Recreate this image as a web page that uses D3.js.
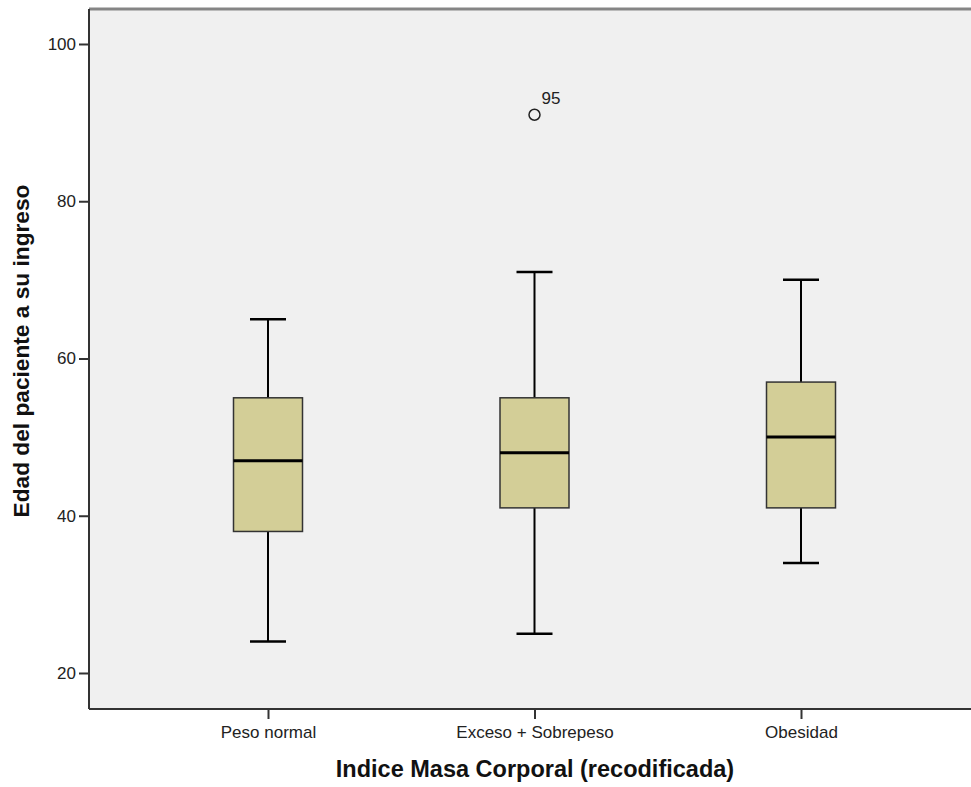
<!DOCTYPE html>
<html><head><meta charset="utf-8">
<script src="https://cdn.jsdelivr.net/npm/d3@7"></script>
<style>body{margin:0;background:#fff}svg{display:block}</style>
</head><body><svg id="c" width="971" height="787"></svg>
<script>
const categories = ["Peso normal", "Exceso + Sobrepeso", "Obesidad"];
const whiskerLow = [24, 25, 34];
const q1 = [38, 41, 41];
const median = [47, 48, 50];
const q3 = [55, 55, 57];
const whiskerHigh = [65, 71, 70];
const outliers = [{cat: "Exceso + Sobrepeso", value: 91, label: "95"}];
const yTicks = [20, 40, 60, 80, 100];

const FONT = "Liberation Sans, Arial, sans-serif";
const svg = d3.select("#c");
const L = 89, R = 971, T = 9, B = 709;
const y = d3.scaleLinear().domain([15.42, 104.45]).range([B, T]);
const x = d3.scalePoint().domain(categories).range([268, 801]);
const boxW = 69, capW = 36;

svg.append("rect").attr("x", L).attr("y", T).attr("width", R - L + 5).attr("height", B - T).attr("fill", "#f0f0f0");
svg.append("line").attr("x1", L).attr("x2", R).attr("y1", T).attr("y2", T).attr("stroke", "#858585").attr("stroke-width", 3);

const data = categories.map((c, i) => ({c, lo: whiskerLow[i], q1: q1[i], med: median[i], q3: q3[i], hi: whiskerHigh[i]}));
const g = svg.append("g");
const bx = g.selectAll("g.b").data(data).join("g");
bx.append("line").attr("x1", d => x(d.c)).attr("x2", d => x(d.c)).attr("y1", d => y(d.hi)).attr("y2", d => y(d.q3)).attr("stroke", "#000").attr("stroke-width", 2);
bx.append("line").attr("x1", d => x(d.c)).attr("x2", d => x(d.c)).attr("y1", d => y(d.q1)).attr("y2", d => y(d.lo)).attr("stroke", "#000").attr("stroke-width", 2);
bx.append("line").attr("x1", d => x(d.c) - capW/2).attr("x2", d => x(d.c) + capW/2).attr("y1", d => y(d.hi)).attr("y2", d => y(d.hi)).attr("stroke", "#000").attr("stroke-width", 2.5);
bx.append("line").attr("x1", d => x(d.c) - capW/2).attr("x2", d => x(d.c) + capW/2).attr("y1", d => y(d.lo)).attr("y2", d => y(d.lo)).attr("stroke", "#000").attr("stroke-width", 2.5);
bx.append("rect").attr("x", d => x(d.c) - boxW/2).attr("width", boxW).attr("y", d => y(d.q3)).attr("height", d => y(d.q1) - y(d.q3))
  .attr("fill", "#d3ce97").attr("stroke", "#333").attr("stroke-width", 1.5);
bx.append("line").attr("x1", d => x(d.c) - boxW/2).attr("x2", d => x(d.c) + boxW/2).attr("y1", d => y(d.med)).attr("y2", d => y(d.med)).attr("stroke", "#000").attr("stroke-width", 3);

g.selectAll("circle.o").data(outliers).join("circle").attr("cx", d => x(d.cat)).attr("cy", d => y(d.value)).attr("r", 5.5)
  .attr("fill", "none").attr("stroke", "#222").attr("stroke-width", 1.5);
g.selectAll("text.o").data(outliers).join("text").attr("x", d => x(d.cat) + 7).attr("y", d => y(d.value) - 11)
  .attr("font-family", FONT).attr("font-size", 17).attr("fill", "#222").text(d => d.label);

const yAxis = svg.append("g").attr("transform", `translate(${L},0)`).call(d3.axisLeft(y).tickValues(yTicks).tickSize(10).tickPadding(3).tickFormat(d3.format("d")));
yAxis.select(".domain").attr("d", `M0,${T}V${B}`).attr("stroke", "#333").attr("stroke-width", 2);
yAxis.selectAll(".tick line").attr("stroke", "#333").attr("stroke-width", 2);
yAxis.selectAll("text").attr("font-family", FONT).attr("font-size", 17).attr("fill", "#222");

const xAxis = svg.append("g").attr("transform", `translate(0,${B})`).call(d3.axisBottom(x).tickSize(10).tickPadding(5));
xAxis.select(".domain").attr("d", `M${L},0H${R}`).attr("stroke", "#333").attr("stroke-width", 2);
xAxis.selectAll(".tick line").attr("stroke", "#333").attr("stroke-width", 2);
xAxis.selectAll("text").attr("y", 29).attr("dy", 0).attr("font-family", FONT).attr("font-size", 17).attr("fill", "#222");

svg.append("text").attr("x", 535).attr("y", 777).attr("text-anchor", "middle")
  .attr("font-family", FONT).attr("font-weight", "bold").attr("font-size", 23.5).attr("fill", "#111")
  .text("Indice Masa Corporal (recodificada)");
svg.append("text").attr("transform", "translate(29,351) rotate(-90)").attr("text-anchor", "middle")
  .attr("font-family", FONT).attr("font-weight", "bold").attr("font-size", 22.7).attr("fill", "#111")
  .text("Edad del paciente a su ingreso");
</script></body></html>
